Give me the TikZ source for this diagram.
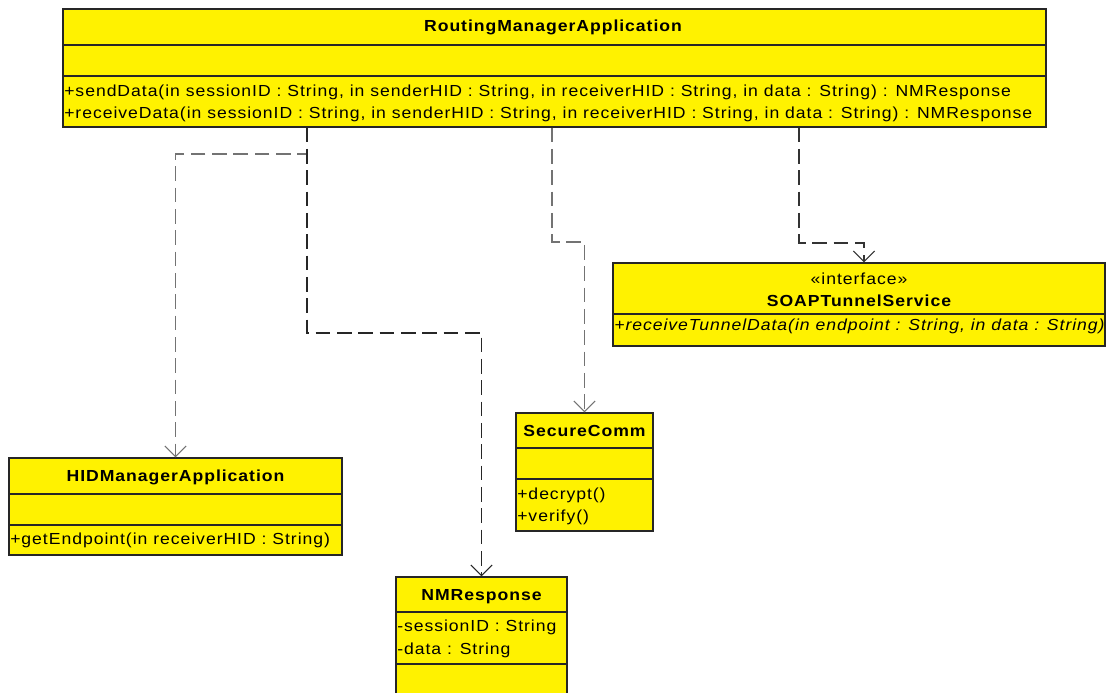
\documentclass[tikz,border=0pt]{standalone}
\usepackage{fontspec}
\setmainfont[FakeStretch=1.1,LetterSpace=6]{Liberation Sans}
\usetikzlibrary{arrows.meta,fit,calc}

\tikzset{
  classbox/.style={draw=black!85, fill=yellow, line width=0.9pt, inner sep=0pt},
  sepline/.style={draw=black!85, line width=0.8pt},
  member/.style={inner sep=0pt, anchor=base west, font=\fontsize{12}{14}\selectfont},
  cname/.style={inner sep=0pt, anchor=base, font=\fontsize{12}{14}\selectfont\bfseries},
  stereo/.style={inner sep=0pt, anchor=base, font=\fontsize{12}{14}\selectfont},
  dep/.style={dash pattern=on 11pt off 5pt, line width=1.4pt,
    -{Straight Barb[length=8pt,width=16pt,line width=0.8pt]}},
}

\begin{document}
\begin{tikzpicture}[x=0.75pt,y=-0.75pt]
\useasboundingbox (0,0) rectangle (1108,693);

% RoutingManagerApplication
\node[classbox, fit={(63,9) (1046,127)}] (rma) {};
\draw[sepline] (rma.west |- 0,45) -- (rma.east |- 0,45);
\draw[sepline] (rma.west |- 0,76) -- (rma.east |- 0,76);
\node[cname] (rmaname) at (553,31) {RoutingManagerApplication};
\node[member] (rmaop1) at (64,96) {+sendData(in sessionID : String, in senderHID : String, in receiverHID : String, in data : String) : NMResponse};
\node[member] (rmaop2) at (64,118) {+receiveData(in sessionID : String, in senderHID : String, in receiverHID : String, in data : String) : NMResponse};

% SOAPTunnelService
\node[classbox, fit={(613,263) (1105,346)}] (soap) {};
\draw[sepline] (soap.west |- 0,314) -- (soap.east |- 0,314);
\node[stereo] (soapst) at (859,284) {«interface»};
\node[cname] (soapname) at (859,306) {SOAPTunnelService};
\node[member, font=\fontsize{12}{14}\selectfont\itshape] (soapop) at (614,330) {+receiveTunnelData(in endpoint : String, in data : String)};

% HIDManagerApplication
\node[classbox, fit={(9,458) (342,555)}] (hid) {};
\draw[sepline] (hid.west |- 0,494) -- (hid.east |- 0,494);
\draw[sepline] (hid.west |- 0,525) -- (hid.east |- 0,525);
\node[cname] (hidname) at (175.5,481) {HIDManagerApplication};
\node[member] (hidop) at (10,544) {+getEndpoint(in receiverHID : String)};

% SecureComm
\node[classbox, fit={(516,413) (653,531)}] (sc) {};
\draw[sepline] (sc.west |- 0,448) -- (sc.east |- 0,448);
\draw[sepline] (sc.west |- 0,479) -- (sc.east |- 0,479);
\node[cname] (scname) at (584.5,436) {SecureComm};
\node[member] (scop1) at (517,499) {+decrypt()};
\node[member] (scop2) at (517,521) {+verify()};

% NMResponse
\node[classbox, fit={(396,577) (567,700)}] (nm) {};
\draw[sepline] (nm.west |- 0,612) -- (nm.east |- 0,612);
\draw[sepline] (nm.west |- 0,664) -- (nm.east |- 0,664);
\node[cname] (nmname) at (481.5,600) {NMResponse};
\node[member] (nmat1) at (397,631) {-sessionID : String};
\node[member] (nmat2) at (397,654) {-data : String};

% dependency sources on the bottom edge of RoutingManagerApplication
\coordinate (src1) at ($(rma.south west)+(245,0)$);
\coordinate (src2) at ($(rma.south west)+(490,0)$);
\coordinate (src3) at ($(rma.south west)+(737,0)$);

% dependencies
\draw[dep, black!55] (src1) -- ++(0,26) -| (hid.north);
\draw[dep, black!85] (src1) -- ++(0,205) -| (nm.north);
\draw[dep, black!55] (src2) -- ++(0,114) -| (sc.north);
\draw[dep, black!80] (src3) -- ++(0,115) -| ($(soap.north)+(5,0)$);
\end{tikzpicture}
\end{document}
